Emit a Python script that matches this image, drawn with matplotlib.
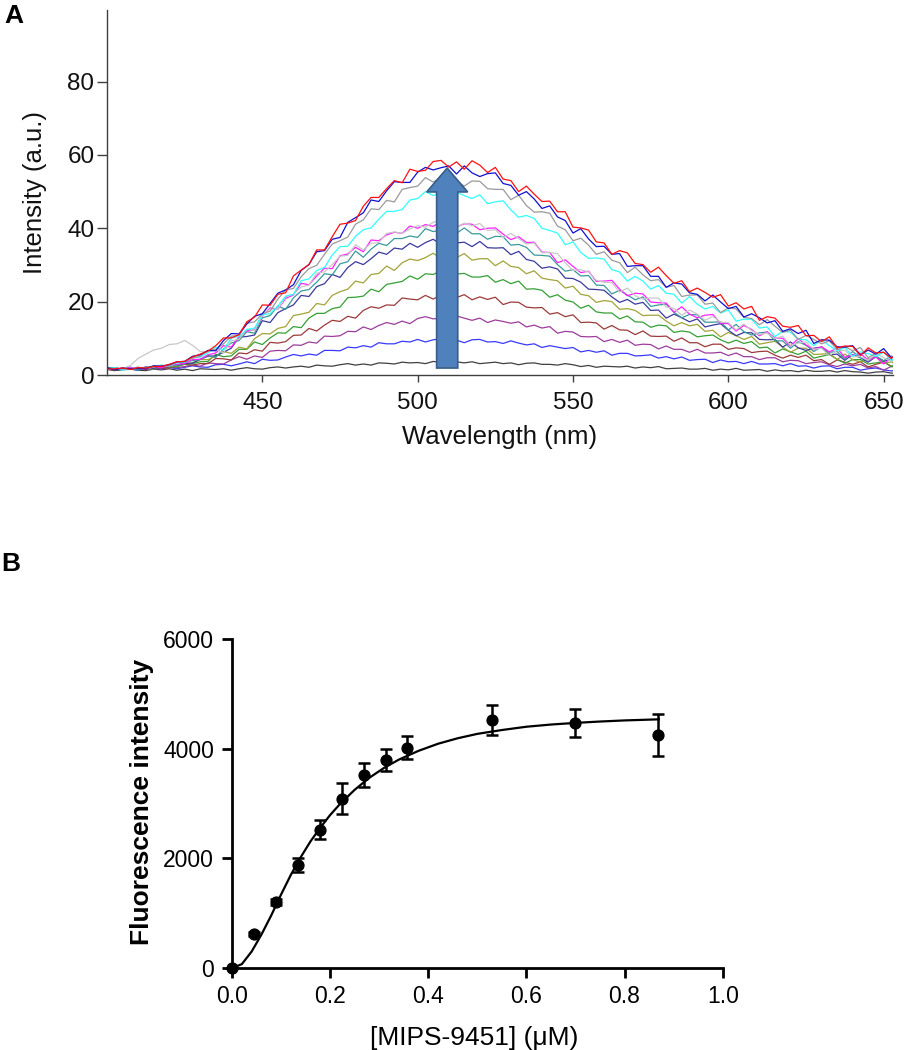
import matplotlib
matplotlib.use("Agg")
import matplotlib.pyplot as plt
import numpy as np
from matplotlib.patches import Polygon

plt.rcParams["font.family"] = ["Liberation Sans", "DejaVu Sans"]

# ---- Panel A data: emission spectra, every 2.5 nm from 400 to 655 nm ----
wavelength = np.arange(400, 655.1, 2.5)

spec_black = [1.5,1.2,1.4,1.6,1.3,1.2,1.6,1.4,1.7,1.3, 1.6,1.2,1.7,1.6,1.5,1.7,1.3,1.7,2.0,1.7,
              1.6,2.0,2.2,1.9,2.2,2.4,2.1,2.7,2.5,2.4, 2.8,3.1,2.7,3.0,2.7,3.3,3.2,3.0,3.5,3.3,
              3.4,3.1,3.7,3.4,3.2,3.6,3.3,3.6,3.1,3.3, 3.5,3.1,3.3,2.8,3.2,3.3,2.9,2.9,2.7,3.1,
              2.8,2.3,2.6,2.1,2.4,2.3,2.2,2.4,1.9,2.2, 2.0,2.3,1.7,1.8,1.9,1.6,1.6,1.8,1.3,1.6,
              1.4,1.8,1.3,1.4,1.5,1.0,1.4,1.1,1.2,0.9, 1.3,1.0,1.0,1.2,0.8,1.2,0.9,0.8,0.5,0.8,
              0.9,0.5,0.7]
spec_blue = [1.7,2.0,1.5,1.8,1.3,1.9,1.8,1.7,2.1,1.7, 2.1,2.5,2.2,2.1,2.8,2.9,2.5,3.0,3.6,3.1,
             4.3,4.0,4.1,4.9,5.6,5.2,5.7,5.4,6.7,6.7, 6.6,7.6,7.4,8.0,7.6,8.8,8.5,8.5,9.2,9.0,
             9.7,9.0,9.6,9.9,9.2,9.5,8.8,9.6,9.7,9.0, 9.1,8.6,9.3,8.7,8.2,8.5,7.5,8.0,7.6,7.2,
             7.5,6.3,6.7,6.2,6.6,5.4,5.9,5.9,5.2,5.3, 5.5,4.6,5.0,4.4,4.9,4.0,4.2,4.3,3.4,4.1,
             3.6,3.7,3.1,3.7,3.0,3.0,3.1,2.5,3.1,2.4, 2.5,1.9,2.4,2.5,1.7,2.1,2.1,1.3,1.7,1.9,
             1.4,1.1,1.7]
spec_purple = [1.6,2.0,1.5,1.8,2.1,1.7,1.5,2.0,2.2,2.0, 2.3,2.7,2.4,3.3,3.1,3.0,4.1,5.0,4.3,5.2,
               4.8,6.5,6.7,6.6,8.2,8.1,9.0,8.7,10.6,10.5, 10.7,11.9,11.8,13.1,12.4,13.5,14.3,13.8,14.7,14.0,
               15.4,15.9,15.3,15.5,15.0,16.1,15.5,14.9,15.5,14.3, 15.0,14.6,14.1,14.5,13.1,13.6,12.8,13.2,11.4,11.9,
               11.7,10.5,10.4,10.5,9.1,9.7,8.9,9.5,8.1,8.4, 8.3,7.1,7.9,7.0,7.0,6.2,7.0,6.0,6.0,6.2,
               5.3,6.0,5.0,5.0,4.2,4.7,4.7,3.6,4.0,3.9, 3.1,3.4,3.6,2.8,2.3,3.0,2.5,2.9,1.9,2.3,
               1.3,2.4,2.0]
spec_brown = [1.8,1.9,1.5,1.7,1.9,1.5,2.2,1.9,1.9,2.5, 2.9,2.7,3.1,3.1,4.5,4.4,4.1,6.0,5.8,6.9,
              6.5,8.9,8.7,9.1,10.8,10.9,12.7,12.0,13.6,14.9, 14.6,16.0,15.5,17.6,18.6,18.2,19.1,19.0,21.0,20.7,
              20.5,21.7,20.7,21.8,21.5,21.1,21.9,20.5,21.3,20.6, 21.2,19.2,19.9,19.8,18.5,18.3,18.4,16.6,17.0,15.9,
              16.4,14.3,14.4,14.2,12.5,13.5,12.3,12.2,11.0,12.0, 10.6,10.5,10.6,9.2,10.1,8.8,8.8,7.7,8.4,8.4,
              7.0,7.4,7.2,6.1,6.4,6.5,5.4,4.6,5.4,4.8, 5.4,3.9,4.2,2.9,4.1,3.5,2.9,3.6,2.2,2.9,
              3.5,2.4,1.6]
spec_green = [1.6,1.5,1.9,2.1,1.6,1.9,1.6,2.3,2.3,2.2, 3.0,3.1,3.6,3.7,5.6,5.0,5.2,7.0,7.0,9.0,
              8.3,10.1,11.5,11.4,13.2,12.9,15.5,16.8,16.8,18.1, 18.5,21.1,21.2,21.5,23.4,22.7,24.7,25.1,25.5,27.0,
              26.1,27.6,27.4,28.4,26.4,27.5,27.7,26.7,26.7,27.1, 25.3,26.0,24.9,25.6,23.4,23.5,23.1,21.2,21.9,20.4,
              19.9,18.2,19.0,17.2,16.9,16.9,15.3,16.1,14.5,14.4, 13.0,13.6,13.4,11.6,12.0,11.7,10.4,10.7,10.9,9.6,
              8.7,9.5,8.6,9.1,7.4,7.6,6.0,7.1,6.3,5.6, 6.5,4.6,5.1,5.6,4.3,3.2,4.2,4.2,3.0,3.3,
              3.7,2.2,3.8]
spec_olive = [1.9,1.8,1.5,2.0,1.7,2.0,1.7,2.5,2.3,2.5, 3.1,3.3,4.2,4.2,5.2,6.4,5.9,7.6,7.1,9.9,
              11.3,11.2,12.7,13.2,16.2,16.6,17.1,19.5,19.1,21.7, 22.7,23.4,25.6,25.1,27.4,27.7,29.7,28.5,30.6,31.6,
              31.2,32.0,33.2,31.7,32.7,32.0,33.1,31.3,31.7,31.7, 29.8,31.1,29.6,29.3,27.6,28.4,26.4,26.0,25.7,23.7,
              24.2,22.0,21.6,19.8,20.3,20.0,17.9,18.1,17.6,16.2, 16.3,16.3,14.7,13.4,14.3,13.4,13.8,11.9,12.2,10.4,
              11.6,10.7,9.7,10.5,8.4,8.8,9.2,7.6,6.2,7.3, 7.3,5.6,5.7,5.9,4.2,5.7,4.2,3.5,4.4,5.0,
              3.2,3.6,2.2]
spec_navy = [2.1,1.7,1.5,1.9,1.6,2.2,1.8,2.3,2.6,2.6, 3.2,3.2,4.3,5.1,5.2,6.2,7.3,10.3,10.5,10.9,
             14.8,14.3,17.0,18.1,19.1,21.7,21.4,24.1,24.9,27.4, 26.6,29.3,30.9,30.1,31.7,33.5,32.9,34.6,34.3,35.9,
             34.8,36.1,37.0,35.5,37.1,36.0,36.2,35.0,36.4,34.7, 34.6,34.7,32.8,33.7,31.5,31.0,29.1,29.5,28.9,26.4,
             26.3,25.3,23.4,23.3,23.1,21.3,19.8,20.6,19.3,19.8, 17.6,17.7,15.5,16.6,15.6,14.5,15.3,13.1,13.6,14.0,
             12.2,10.7,11.6,11.5,9.7,9.6,9.7,7.6,9.0,7.4, 6.7,7.3,7.6,5.5,5.7,4.0,5.6,4.7,3.5,5.0,
             3.8,4.2,2.6]
spec_teal = [1.7,1.9,1.5,1.8,1.3,2.1,2.4,2.2,2.5,2.6, 3.6,3.9,4.2,5.3,4.8,7.1,8.7,9.4,11.8,11.4,
             15.6,16.2,18.8,17.9,21.0,22.9,23.3,25.3,27.6,27.3, 30.3,30.9,33.8,32.1,34.3,35.9,35.3,37.2,37.2,37.9,
             37.5,39.9,39.1,39.5,40.0,38.6,40.1,38.5,38.5,37.0, 37.8,37.7,35.4,35.6,34.8,32.7,32.6,32.4,30.1,28.3,
             28.7,27.0,27.1,24.5,24.4,22.1,23.1,21.8,20.5,21.3, 18.7,19.1,19.3,17.1,15.6,16.5,16.4,14.4,14.4,14.5,
             12.3,13.8,11.8,10.9,11.5,11.7,9.3,9.3,7.3,9.1, 8.1,6.4,7.7,6.2,6.4,4.4,6.4,4.8,4.0,5.1,
             3.9,5.2,2.9]
spec_magenta = [1.6,1.7,1.5,2.1,1.8,1.7,2.3,2.0,2.6,2.9, 3.2,4.2,4.3,5.5,6.0,8.0,7.6,10.4,12.0,12.3,
                16.1,18.3,17.9,20.9,21.8,25.0,24.6,27.0,29.1,29.0, 32.5,33.0,34.8,33.6,36.8,36.6,38.2,38.9,38.6,40.6,
                40.0,41.0,40.5,41.9,42.1,40.4,41.2,41.1,39.6,40.0, 40.1,38.4,36.9,37.7,36.1,36.2,33.5,33.4,30.6,31.4,
                29.6,27.9,28.3,25.5,25.6,25.8,23.4,21.6,22.3,22.1, 19.9,19.7,19.6,17.1,18.6,16.6,15.6,16.3,16.5,14.1,
                14.0,12.0,13.5,12.4,10.7,11.8,10.1,10.0,7.9,9.9, 8.2,7.0,7.7,6.3,7.3,4.8,5.5,5.8,4.1,4.9,
                3.0,4.8,5.0]
spec_lightgray = [1.4,1.8,1.7,2.6,4.5,5.7,6.8,7.3,8.3,8.5, 9.4,8.1,6.4,6.3,6.9,6.0,9.3,9.8,12.5,12.1,
                  16.2,18.0,17.9,21.3,22.0,24.0,24.5,27.8,28.1,30.1, 32.4,32.6,35.5,34.1,35.9,36.1,38.6,39.0,38.6,39.8,
                  40.7,40.3,41.6,42.3,41.0,40.2,41.4,40.7,41.3,39.4, 39.6,37.5,38.6,37.2,35.7,36.0,33.3,33.4,33.1,30.6,
                  28.5,28.7,28.1,25.8,25.3,25.2,22.6,23.7,21.6,20.7, 21.0,21.0,18.5,18.2,16.3,17.7,16.6,14.9,16.0,14.4,
                  14.3,12.3,13.9,12.1,11.0,11.5,9.9,10.6,8.1,8.7, 9.0,7.0,7.3,5.3,6.7,6.7,5.0,5.0,4.0,5.8,
                  4.7,3.7,4.7]
spec_cyan = [1.7,2.0,1.3,1.8,1.9,1.8,2.2,2.7,2.4,3.3, 3.5,4.7,4.9,6.1,7.6,6.8,10.1,10.5,12.4,12.8,
             16.5,16.7,18.8,21.5,22.0,25.7,26.2,28.5,29.3,32.7, 35.0,35.1,37.8,39.6,40.1,42.5,44.6,44.6,45.1,47.7,
             48.1,50.0,48.9,49.8,47.9,49.8,48.9,48.1,49.1,46.7, 47.2,47.5,45.0,43.0,43.5,42.7,40.0,39.4,38.7,35.5,
             36.3,33.4,31.8,31.9,31.6,28.7,28.1,25.6,26.9,25.6, 23.4,24.4,22.3,22.0,19.6,21.4,19.3,18.0,18.7,16.9,
             17.7,14.7,15.2,15.2,12.8,13.1,10.5,11.9,11.7,9.7, 9.6,8.0,9.6,8.0,6.6,7.5,5.1,6.3,5.8,5.1,
             6.2,4.0,5.2]
spec_gray = [1.9,1.4,1.8,1.6,2.1,1.8,2.3,2.6,2.4,3.5, 3.7,4.6,5.1,6.7,7.0,8.5,10.6,10.8,14.1,14.5,
             16.7,17.4,20.7,23.2,23.6,26.8,29.0,29.9,32.9,35.7, 36.6,37.6,41.1,42.3,45.3,45.1,47.6,47.2,50.6,51.1,
             51.5,53.8,52.6,53.8,54.6,52.8,51.5,52.9,52.8,50.8, 50.6,50.6,47.8,49.0,46.2,44.4,44.5,44.1,40.6,39.6,
             36.6,37.3,35.4,32.9,33.6,31.3,30.6,27.9,29.4,27.3, 25.7,26.0,23.9,24.4,21.4,21.8,21.8,19.3,19.6,17.0,
             18.3,18.0,15.7,15.4,13.7,15.1,13.3,11.6,12.2,9.7, 10.8,9.7,8.5,9.3,6.9,7.8,6.6,7.5,4.7,6.0,
             6.2,4.8,5.0]
spec_darkblue = [1.9,1.4,1.9,1.7,1.8,1.7,2.5,2.4,2.8,3.6, 3.7,5.1,5.5,6.7,6.6,9.4,11.3,11.2,13.9,16.0,
                 16.7,19.5,22.3,23.2,24.6,28.5,30.1,33.6,33.9,37.0, 37.5,41.6,42.9,44.2,47.7,47.3,50.2,52.7,52.5,52.5,
                 55.3,56.6,55.9,56.5,57.0,54.8,57.0,55.1,54.1,54.9, 55.1,52.2,51.7,49.0,50.0,48.0,45.4,46.1,43.1,42.1,
                 38.7,39.9,37.1,35.0,35.1,32.9,33.1,29.6,29.8,29.8, 26.9,26.9,23.9,25.1,24.8,22.4,22.0,20.2,21.8,19.9,
                 18.1,18.7,15.8,16.7,15.6,14.2,14.8,11.9,12.6,11.3, 12.2,8.6,9.6,9.5,7.7,7.6,8.0,5.5,6.8,5.7,
                 7.2,4.7,5.4]
spec_red = [1.6,1.7,1.9,1.5,2.0,1.9,2.3,2.3,2.9,3.6, 3.7,4.9,5.7,6.5,8.0,10.1,10.1,11.0,14.5,15.8,
            19.1,19.0,22.0,22.4,27.0,28.6,30.1,34.1,34.1,37.7, 41.1,41.4,42.1,46.0,48.4,48.4,50.8,53.0,52.4,56.1,
            55.5,55.8,58.2,58.5,56.7,58.1,56.1,58.4,57.2,55.2, 56.6,53.4,53.0,50.0,51.5,49.3,47.3,47.4,44.5,44.5,
            40.3,40.1,39.5,36.3,36.0,32.9,33.9,33.3,30.4,30.1, 28.0,29.4,27.1,25.0,25.7,22.7,23.7,22.5,21.2,21.9,
            18.8,19.7,18.0,18.7,14.9,15.9,15.5,13.3,13.0,13.5, 10.7,10.8,9.1,10.4,7.4,7.9,7.8,5.3,7.4,6.0,
            6.2,4.5,6.5]

spectra = [spec_black, spec_blue, spec_purple, spec_brown, spec_green, spec_olive, spec_navy,
           spec_teal, spec_magenta, spec_lightgray, spec_cyan, spec_gray, spec_darkblue, spec_red]
spec_colors = ["#404040", "#3a3aff", "#9c3c9c", "#9c3a3a", "#35a035", "#a3a33a", "#3a3a9c",
               "#3a9a9a", "#ff20ff", "#c8c8c8", "#30ffff", "#9a9a9a", "#1010d0", "#ff1010"]

# ---- Panel B data: titration (mean +/- error) and fitted curve ----
conc = [0.0, 0.045, 0.090, 0.134, 0.179, 0.224, 0.270, 0.313, 0.357, 0.530, 0.700, 0.869]
fluor = [0, 620, 1200, 1880, 2520, 3090, 3520, 3790, 4020, 4520, 4470, 4250]
fluor_err = [0, 40, 50, 130, 175, 290, 225, 200, 215, 275, 260, 375]

fit_conc = [0.0, 0.02, 0.04, 0.06, 0.08, 0.10, 0.12, 0.14, 0.16, 0.18, 0.20, 0.22, 0.25, 0.28, 0.31,
            0.34, 0.38, 0.42, 0.46, 0.50, 0.55, 0.60, 0.65, 0.70, 0.75, 0.80, 0.87]
fit_fluor = [0, 70, 300, 610, 960, 1340, 1700, 2020, 2310, 2560, 2790, 2990, 3250, 3470, 3650,
             3800, 3960, 4090, 4190, 4270, 4340, 4400, 4440, 4470, 4495, 4515, 4535]

W, H = 906, 1050
fig = plt.figure(figsize=(W / 100, H / 100), dpi=100)

# ---------------- Panel A ----------------
axA = fig.add_axes([107 / W, 1 - 375 / H, 786 / W, 365 / H])
for vals, col in zip(spectra, spec_colors):
    axA.plot(wavelength, vals, color=col, lw=0.9)

# big "increase" arrow
arrow = Polygon([(506.1, 1.9), (512.9, 1.9), (512.9, 49.9), (516.1, 49.9), (509.5, 56.4),
                 (502.9, 49.9), (506.1, 49.9)], closed=True, facecolor="#4f81bd",
                edgecolor="#385d8a", lw=1.2, zorder=10)
axA.add_patch(arrow)

axA.set_xlim(400, 653)
axA.set_ylim(0, 99.5)
axA.set_xticks([450, 500, 550, 600, 650])
axA.set_yticks([0, 20, 40, 60, 80])
for s in ["top", "right"]:
    axA.spines[s].set_visible(False)
for s in ["left", "bottom"]:
    axA.spines[s].set_color("#404040")
    axA.spines[s].set_linewidth(1.0)
axA.tick_params(axis="both", direction="out", colors="#404040", labelcolor="#111111",
                labelsize=17.5, width=1.0)
axA.tick_params(axis="x", length=5, pad=7)
axA.tick_params(axis="y", length=7, pad=2)
axA.set_xlabel("Wavelength (nm)", fontsize=18.5, color="#111111")
axA.set_ylabel("Intensity (a.u.)", fontsize=18.5, color="#111111")
axA.xaxis.set_label_coords(0.5, (375 - 437) / 365)
axA.xaxis.label.set_verticalalignment("center")
axA.yaxis.set_label_coords((35 - 107) / 786, 0.5)
axA.yaxis.label.set_verticalalignment("center")

# ---------------- Panel B ----------------
axB = fig.add_axes([232 / W, 1 - 968 / H, 490.7 / W, 329 / H])
axB.plot(fit_conc, fit_fluor, color="black", lw=1.6, zorder=3)
axB.errorbar(conc, fluor, yerr=fluor_err, fmt="o", color="black", ms=7.8, elinewidth=1.8,
             capsize=4, capthick=1.8, zorder=4, clip_on=False)
axB.set_xlim(0, 1.0)
axB.set_ylim(0, 6000)
axB.set_xticks([0.0, 0.2, 0.4, 0.6, 0.8, 1.0])
axB.set_xticklabels(["0.0", "0.2", "0.4", "0.6", "0.8", "1.0"])
axB.set_yticks([0, 2000, 4000, 6000])
for s in ["top", "right"]:
    axB.spines[s].set_visible(False)
for s in ["left", "bottom"]:
    axB.spines[s].set_linewidth(2.0)
axB.tick_params(axis="both", direction="out", width=2.0, length=7, labelsize=16.5)
axB.tick_params(axis="y", pad=6)
axB.tick_params(axis="x", pad=5)
axB.set_xlabel("[MIPS-9451] (\u03bcM)", fontsize=19)
axB.set_ylabel("Fluorescence intensity", fontsize=19, fontweight="bold")
axB.xaxis.set_label_coords((474 - 232) / 490.7, (968 - 1038) / 329)
axB.xaxis.label.set_verticalalignment("center")
axB.yaxis.set_label_coords((142 - 232) / 490.7, 0.505)
axB.yaxis.label.set_verticalalignment("center")

# panel letters
fig.text(4 / W, 1 - 4 / H, "A", fontsize=19, fontweight="bold", ha="left", va="top")
fig.text(1 / W, 1 - 552 / H, "B", fontsize=19, fontweight="bold", ha="left", va="top")

fig.savefig("out.png", dpi=100)
